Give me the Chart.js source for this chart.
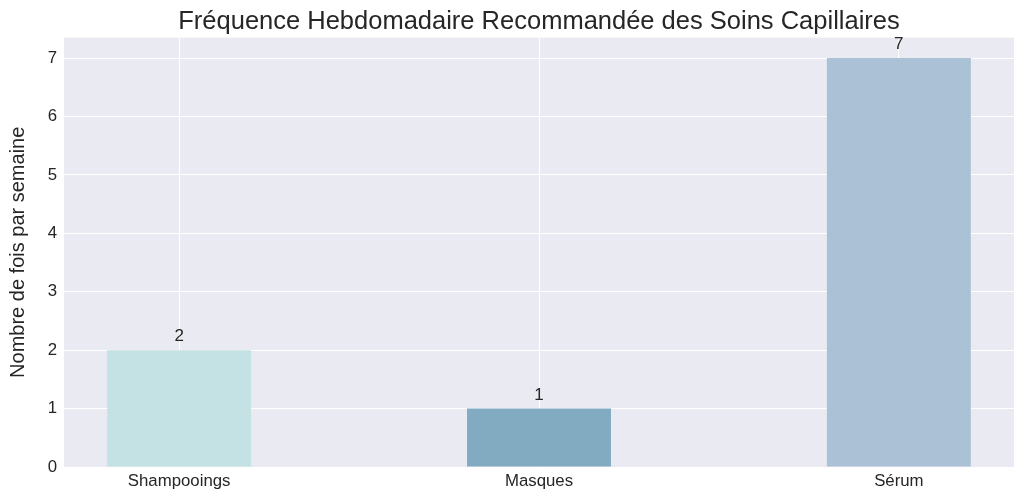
<!DOCTYPE html>
<html>
<head>
<meta charset="utf-8">
<script src="https://cdn.jsdelivr.net/npm/chart.js@4"></script>
<style>
html,body{margin:0;padding:0;background:#fff;}
#wrap{width:1024px;height:497px;}
</style>
</head>
<body>
<div id="wrap"><canvas id="c" width="1024" height="497"></canvas></div>
<script>
const categories = ["Shampooings", "Masques", "Sérum"];
const values = [2, 1, 7];
const barColors = ["#C4E2E4", "#82AAC0", "#ABC2D6"];
const yTicks = [0, 1, 2, 3, 4, 5, 6, 7];
const titleText = "Fréquence Hebdomadaire Recommandée des Soins Capillaires";
const yTitle = "Nombre de fois par semaine";

const FONT = "'Liberation Sans', Arial, sans-serif";
const TXT = "#262626";

const bgPlugin = {
  id: 'bg',
  beforeDraw(chart) {
    const {ctx, chartArea: a} = chart;
    ctx.save();
    ctx.fillStyle = '#EAEAF2';
    ctx.fillRect(a.left, a.top, a.right - a.left, a.bottom - a.top);
    ctx.restore();
  }
};
const labelPlugin = {
  id: 'vals',
  afterDatasetsDraw(chart) {
    const {ctx} = chart;
    const meta = chart.getDatasetMeta(0);
    ctx.save();
    ctx.font = "17px " + FONT;
    ctx.fillStyle = TXT;
    ctx.textAlign = 'center';
    ctx.textBaseline = 'bottom';
    meta.data.forEach((bar, i) => {
      ctx.fillText(String(values[i]), bar.x, bar.y - 5);
    });
    ctx.restore();
  }
};

new Chart(document.getElementById('c'), {
  type: 'bar',
  data: {
    datasets: [{
      data: categories.map((c, i) => ({x: i, y: values[i]})),
      backgroundColor: barColors,
      borderWidth: 0,
      barPercentage: 0.4,
      categoryPercentage: 1.0
    }]
  },
  options: {
    responsive: false,
    animation: false,
    layout: {padding: {left: 0, right: 10, top: 0, bottom: 0}},
    plugins: {
      legend: {display: false},
      tooltip: {enabled: false},
      title: {
        display: true,
        fullSize: false,
        text: titleText,
        color: TXT,
        font: {family: FONT, size: 25.5, weight: 'normal', lineHeight: 1.2},
        padding: {top: 7, bottom: 0}
      }
    },
    scales: {
      x: {
        type: 'linear',
        min: -0.32,
        max: 2.32,
        offset: false,
        afterBuildTicks(s) { s.ticks = categories.map((c, i) => ({value: i})); },
        afterFit(s) { s.height = 30; },
        ticks: {
          callback: (v) => categories[v],
          color: TXT,
          font: {family: FONT, size: 16.8},
          padding: 4,
          maxRotation: 0,
          autoSkip: false
        },
        grid: {color: '#FFFFFF', lineWidth: 1, drawTicks: false, offset: false},
        border: {display: false}
      },
      y: {
        min: 0,
        max: 7.35,
        afterBuildTicks(s) { s.ticks = yTicks.map(v => ({value: v})); },
        afterFit(s) { s.width = 64; },
        ticks: {
          color: TXT,
          font: {family: FONT, size: 16.8},
          padding: 7
        },
        grid: {color: '#FFFFFF', lineWidth: 1, drawTicks: false},
        border: {display: false},
        title: {
          display: true,
          text: yTitle,
          color: TXT,
          font: {family: FONT, size: 20},
          padding: {top: 6, bottom: 4}
        }
      }
    }
  },
  plugins: [bgPlugin, labelPlugin]
});
</script>
</body>
</html>
